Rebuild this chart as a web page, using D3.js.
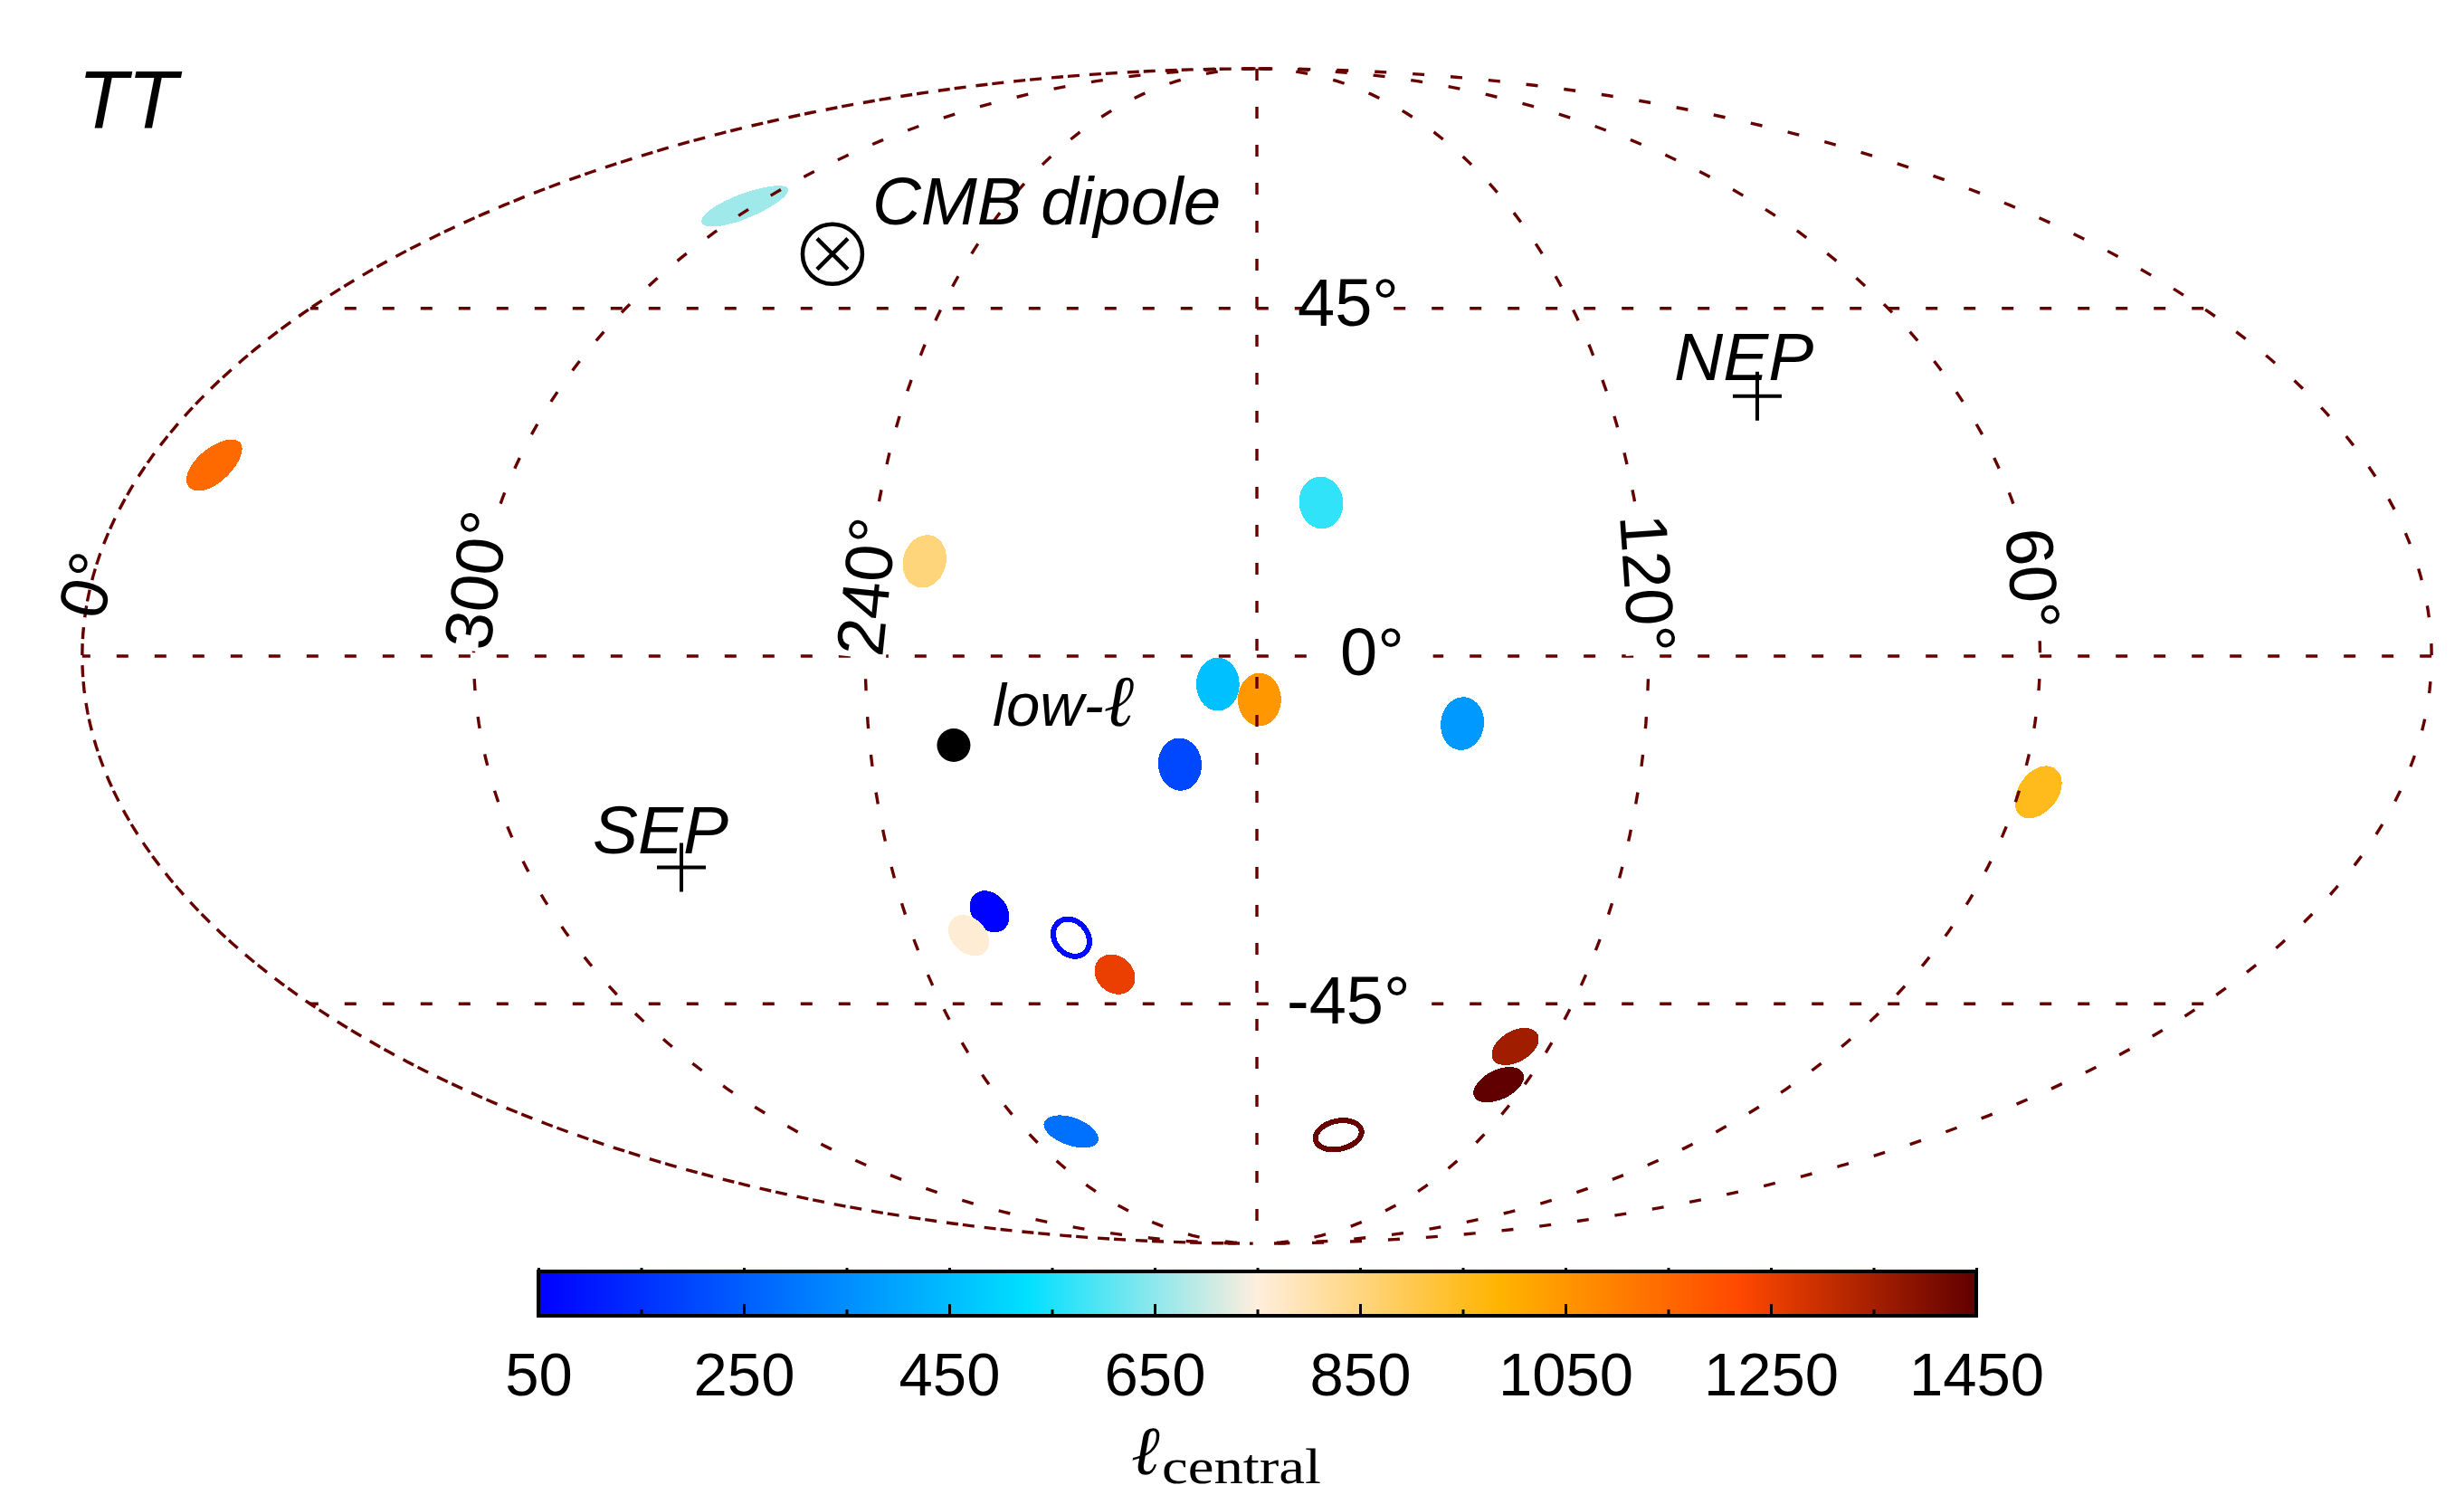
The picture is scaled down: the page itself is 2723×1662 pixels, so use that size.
<!DOCTYPE html>
<html lang="en">
<head>
<meta charset="UTF-8">
<title>TT low-l patches</title>
<style>
    body { margin: 0; padding: 0; background: #fff; }
    svg { display: block; }
    text { font-family: "Liberation Sans", Arial, sans-serif; fill: #000; }
    .grid { fill: none; stroke: #660000; stroke-width: 3.4; stroke-dasharray: 13 29; }
</style>
</head>
<body>
<div id="chart"></div>
<script src="https://d3js.org/d3.v7.min.js"></script>
<script>
// patch centres (galactic lon / lat in degrees) and l_central
const patchLon = [302.3, 349.0, 231.6, 169.8, 186.0, 179.6, 148.3, 192.0, 225.5, 230.2, 205.9, 228.5, 127.0, 125.8, 56.9];
const patchLat = [60.4, 24.0, 11.8, 19.2, -3.5, -5.4, -8.4, -13.5, -32.4, -35.6, -40.9, -64.6, -51.2, -57.0, -17.0];
const patchEll = [665, 1146, 853, 567, 457, 1046, 374, 203, 55, 760, 1250, 287, 1358, 1450, 955];

// the two hollow patches
const ringLon = [212.4, 158.4];
const ringLat = [-35.9, -65.2];
const ringEll = [75, 1440];

const lowEll = [227.0, -11.1];
const dipole = [269.2, 52.9];
const nep = [94.5, 33.0];
const sep = [274.5, -26.6];

const meridians = [60, 120, 180, 240, 300];
const parallels = [-45, 0, 45];

const colorEll = [50, 525, 750, 985, 1220, 1450];
const colorHex = ["#0000ff", "#00e0ff", "#ffeedd", "#ffb400", "#ff4800", "#600000"];
const majorTicks = [50, 250, 450, 650, 850, 1050, 1250, 1450];
const allTicks = d3.range(50, 1451, 100);

const width = 2723, height = 1662;
const svg = d3.select("#chart").append("svg").attr("width", width).attr("height", height);

// d3 core has no Mollweide, so give geoProjection the raw formula
function mollweideRaw(lambda, phi) {
    let t = phi;
    if (Math.abs(phi) < Math.PI / 2 - 1e-9) {
        const k = Math.PI * Math.sin(phi);
        for (let i = 0; i < 40; i++) {
            const dt = (2 * t + Math.sin(2 * t) - k) / (2 + 2 * Math.cos(2 * t));
            t -= dt;
            if (Math.abs(dt) < 1e-9) break;
        }
    }
    return [2 * Math.SQRT2 / Math.PI * lambda * Math.cos(t), Math.SQRT2 * Math.sin(t)];
}

const projection = d3.geoProjection(mollweideRaw)
    .rotate([180, 0])
    .reflectX(true)
    .scale(459)
    .translate([1389, 725])
    .precision(0.1);
const path = d3.geoPath(projection);

const color = d3.scaleLinear().domain(colorEll).range(colorHex).interpolate(d3.interpolateRgb);
const circle = d3.geoCircle();

// filled patches, the ones in the south come out a bit smaller in the original
const patches = svg.append("g").attr("shape-rendering", "crispEdges");
patchLon.forEach((lon, i) => {
    const r = (patchLat[i] < -30) ? 2.75 : 3.3;
    patches.append("path")
        .attr("d", path(circle.center([lon, patchLat[i]]).radius(r)()))
        .attr("fill", color(patchEll[i]));
});
ringLon.forEach((lon, i) => {
    patches.append("path")
        .attr("d", path(circle.center([lon, ringLat[i]]).radius(2.5)()))
        .attr("fill", "none")
        .attr("stroke", color(ringEll[i]))
        .attr("stroke-width", 6);
});

// graticule
const grid = svg.append("g");
function gridLine(coords, offset) {
    grid.append("path").attr("class", "grid")
        .attr("stroke-dashoffset", offset || 0)
        .style("stroke-dashoffset", offset || 0)
        .attr("d", path({ type: "LineString", coordinates: coords }));
}
const meridianCoords = lon => [[lon, 89.99], [lon, 0], [lon, -89.99]];

// outline: the left edge is stroked twice, which doubles its dashes
gridLine(meridianCoords(359.99));
gridLine(meridianCoords(359.99), 18);
gridLine(meridianCoords(0.01));
meridians.forEach(lon => gridLine(meridianCoords(lon)));

// each parallel is two runs, one from each edge, that stop at its label
const leftStop = { "-45": 174.7, "0": 168.7, "45": 169 };
const rightStop = { "-45": 148, "0": 154, "45": 154.4 };
parallels.forEach(lat => {
    const left = d3.range(359.99, leftStop[lat], -1).map(lon => [lon, lat]);
    const right = d3.range(0.01, rightStop[lat], 1).map(lon => [lon, lat]);
    gridLine(left, 4);
    gridLine(right, 0);
});

// grid labels, the longitude ones cut the dashes with a white box
const gridLabels = [
    { t: "0°", x: 113, y: 687, r: -76, box: false },
    { t: "300°", x: 541, y: 720, r: -82, box: true },
    { t: "240°", x: 975, y: 727, r: -84, box: true },
    { t: "120°", x: 1790, y: 570, r: 86, box: true },
    { t: "60°", x: 2216, y: 586, r: 85, box: true },
    { t: "0°", x: 1481, y: 746, r: 0, box: false },
    { t: "45°", x: 1434, y: 360, r: 0, box: false },
    { t: "-45°", x: 1422, y: 1131, r: 0, box: false }
];
gridLabels.forEach(d => {
    const g = svg.append("g").attr("transform", `translate(${d.x},${d.y}) rotate(${d.r})`);
    const label = g.append("text").attr("font-size", 74).text(d.t);
    if (d.box) {
        const w = label.node().getBBox().width;
        g.insert("rect", "text").attr("x", -2).attr("y", -58).attr("width", w + 4).attr("height", 62).attr("fill", "#fff");
    }
});

// markers
const [dx, dy] = projection(dipole);
const dipoleMark = svg.append("g").attr("transform", `translate(${dx},${dy})`)
    .attr("fill", "none").attr("stroke", "#000").attr("stroke-width", 4.5);
dipoleMark.append("circle").attr("r", 33);
dipoleMark.append("path").attr("d", "M-17,-17L17,17M-17,17L17,-17");

[nep, sep].forEach(p => {
    const [x, y] = projection(p);
    svg.append("path").attr("transform", `translate(${x},${y})`)
        .attr("d", "M-27,0H27M0,-27V27")
        .attr("fill", "none").attr("stroke", "#000").attr("stroke-width", 4);
});

const [lx, ly] = projection(lowEll);
svg.append("circle").attr("cx", lx).attr("cy", ly).attr("r", 18.5).attr("fill", "#000");

// italic annotations
const notes = [
    { t: "TT", x: 86, y: 142, s: 90 },
    { t: "CMB dipole", x: 964, y: 248, s: 74.5 },
    { t: "NEP", x: 1850, y: 420, s: 75 },
    { t: "SEP", x: 655, y: 943, s: 75 }
];
notes.forEach(d => {
    svg.append("text").attr("x", d.x).attr("y", d.y).attr("font-size", d.s)
        .attr("font-style", "italic").text(d.t);
});
const lowText = svg.append("text").attr("x", 1097).attr("y", 802).attr("font-size", 67).attr("font-style", "italic");
lowText.append("tspan").text("low-");
lowText.append("tspan").attr("font-size", 80).style("font-family", "'Liberation Serif', serif").text("ℓ");

// colour bar
const barTop = 1405, barBottom = 1454;
const x = d3.scaleLinear().domain([50, 1450]).range([595, 2184]);

const grad = svg.append("defs").append("linearGradient").attr("id", "ellBar");
colorEll.forEach((v, i) => {
    grad.append("stop").attr("offset", (v - 50) / 1400).attr("stop-color", colorHex[i]);
});
svg.append("rect").attr("x", x(50)).attr("y", barTop)
    .attr("width", x(1450) - x(50)).attr("height", barBottom - barTop)
    .attr("fill", "url(#ellBar)").attr("stroke", "#000").attr("stroke-width", 4);

const axisMinor = d3.axisBottom(x).tickValues(allTicks).tickSize(-7).tickFormat("");
const axisMajor = d3.axisBottom(x).tickValues(majorTicks).tickSize(-13).tickPadding(40).tickFormat(d3.format("d"));
const axisTop = d3.axisTop(x).tickValues(allTicks).tickSize(4).tickFormat("");

[axisMinor, axisMajor].forEach(a => {
    const g = svg.append("g").attr("transform", `translate(0,${barBottom})`).call(a);
    g.select(".domain").remove();
    g.selectAll("line").attr("stroke", "#000").attr("stroke-width", 3);
    g.selectAll("text").attr("font-size", 67).style("font-family", "'Liberation Sans', Arial, sans-serif");
});
const topG = svg.append("g").attr("transform", `translate(0,${barTop})`).call(axisTop);
topG.select(".domain").remove();
topG.selectAll("line").attr("stroke", "#000").attr("stroke-width", 3);

// colour bar title
svg.append("text").attr("x", 1250).attr("y", 1629).attr("font-size", 76)
    .attr("font-style", "italic").style("font-family", "'Liberation Serif', serif").text("ℓ");
svg.append("text").attr("x", 1284).attr("y", 1639).attr("font-size", 54)
    .attr("textLength", 176).attr("lengthAdjust", "spacingAndGlyphs")
    .style("font-family", "'Liberation Serif', serif").text("central");
</script>
</body>
</html>
